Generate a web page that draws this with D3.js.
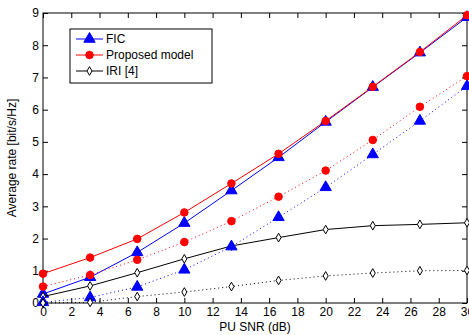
<!DOCTYPE html>
<html>
<head>
<meta charset="utf-8">
<script src="https://cdn.jsdelivr.net/npm/d3@7"></script>
<style>
  body { margin: 0; background: #fff; }
  svg { font-family: "Liberation Sans", Arial, sans-serif; }
</style>
</head>
<body>
<div id="chart"></div>
<script>
// PU SNR values (dB)
const snr = [0, 3.333, 6.667, 10, 13.333, 16.667, 20, 23.333, 26.667, 30];

const ficSolid = [0.28, 0.80, 1.57, 2.48, 3.49, 4.52, 5.62, 6.70, 7.77, 8.87];
const ficDotted = [0.02, 0.17, 0.50, 1.03, 1.75, 2.66, 3.59, 4.61, 5.65, 6.73];
const propSolid = [0.91, 1.41, 1.99, 2.81, 3.71, 4.63, 5.65, 6.71, 7.79, 8.93];
const propDotted = [0.51, 0.87, 1.34, 1.89, 2.54, 3.30, 4.11, 5.06, 6.09, 7.04];
const iriSolid = [0.20, 0.53, 0.94, 1.37, 1.77, 2.03, 2.28, 2.40, 2.44, 2.49];
const iriDotted = [0.00, 0.02, 0.20, 0.34, 0.51, 0.70, 0.84, 0.93, 1.00, 1.01];

const xTicks = d3.range(0, 31, 2);
const yTicks = d3.range(0, 10, 1);

const series = [
  { name: 'FIC', values: ficSolid, color: '#0000ff', marker: 'triangle', dash: null },
  { name: 'Proposed model', values: propSolid, color: '#ff0000', marker: 'circle', dash: null },
  { name: 'IRI [4]', values: iriSolid, color: '#000000', marker: 'diamond', dash: null },
  { name: 'FIC', values: ficDotted, color: '#0000ff', marker: 'triangle', dash: '1,3' },
  { name: 'Proposed model', values: propDotted, color: '#ff0000', marker: 'circle', dash: '1,3' },
  { name: 'IRI [4]', values: iriDotted, color: '#000000', marker: 'diamond', dash: '1,3' }
];

const width = 469, height = 335;
const margin = { top: 13, right: 2, bottom: 32, left: 43 };
const w = width - margin.left - margin.right;
const h = height - margin.top - margin.bottom;

const svg = d3.select('#chart').append('svg')
  .attr('width', width)
  .attr('height', height);

const g = svg.append('g')
  .attr('transform', 'translate(' + margin.left + ',' + margin.top + ')');

const x = d3.scaleLinear().domain([0, 30]).range([0, w]);
const y = d3.scaleLinear().domain([0, 9]).range([h, 0]);

// axes, MATLAB style ticks pointing inward
const styleAxis = (sel) => {
  sel.select('.domain').remove();
  sel.selectAll('line').attr('stroke', '#000');
  sel.selectAll('text').attr('fill', '#000').style('font-size', '12px');
};

g.append('g')
  .attr('transform', `translate(0,${h})`)
  .call(d3.axisBottom(x).tickValues(xTicks).tickSize(-5).tickPadding(4).tickFormat(d3.format('d')))
  .call(styleAxis);
g.append('g')
  .call(d3.axisLeft(y).tickValues(yTicks).tickSize(-5).tickPadding(4).tickFormat(d3.format('d')))
  .call(styleAxis);
g.append('g')
  .call(d3.axisTop(x).tickValues(xTicks).tickSize(-5).tickFormat(''))
  .call(styleAxis);
g.append('g')
  .attr('transform', `translate(${w},0)`)
  .call(d3.axisRight(y).tickValues(yTicks).tickSize(-5).tickFormat(''))
  .call(styleAxis);

g.append('rect')
  .attr('width', w).attr('height', h)
  .attr('fill', 'none').attr('stroke', '#000').attr('stroke-width', 1);

const line = d3.line()
  .x((d, i) => x(snr[i]))
  .y((d) => y(d));

const symbols = {
  triangle: d3.symbol().type(d3.symbolTriangle).size(55),
  circle: d3.symbol().type(d3.symbolCircle).size(45),
  diamond: d3.symbol().type(d3.symbolDiamond).size(22)
};

const drawMarker = (sel, s) => {
  const filled = s.marker !== 'diamond';
  sel.attr('d', symbols[s.marker])
    .attr('fill', filled ? s.color : '#fff')
    .attr('stroke', s.color)
    .attr('stroke-width', 1);
};

series.forEach((s) => {
  g.append('path')
    .datum(s.values)
    .attr('fill', 'none')
    .attr('stroke', s.color)
    .attr('stroke-width', 1)
    .attr('stroke-dasharray', s.dash)
    .attr('d', line);

  g.append('g')
    .selectAll('path')
    .data(s.values)
    .join('path')
    .attr('transform', (d, i) => `translate(${x(snr[i])},${y(d)})`)
    .call(drawMarker, s);
});

// legend
const legend = g.append('g').attr('transform', 'translate(27,16)');
legend.append('rect')
  .attr('width', 142).attr('height', 54)
  .attr('fill', '#fff').attr('stroke', '#000');

series.slice(0, 3).forEach((s, i) => {
  const ly = 10 + i * 16;
  const row = legend.append('g').attr('transform', `translate(0,${ly})`);
  row.append('line')
    .attr('x1', 6).attr('x2', 33)
    .attr('stroke', s.color).attr('stroke-width', 1);
  row.append('path')
    .attr('transform', 'translate(19.5,0)')
    .call(drawMarker, s);
  row.append('text')
    .attr('x', 36).attr('dy', '0.35em')
    .style('font-size', '12px')
    .text(s.name);
});

// axis labels
svg.append('text')
  .attr('x', margin.left + w / 2)
  .attr('y', 331)
  .attr('text-anchor', 'middle')
  .style('font-size', '12px')
  .text('PU SNR (dB)');

svg.append('text')
  .attr('transform', `translate(16,${margin.top + h / 2}) rotate(-90)`)
  .attr('text-anchor', 'middle')
  .style('font-size', '12px')
  .text('Average rate [bit/s/Hz]');
</script>
</body>
</html>
